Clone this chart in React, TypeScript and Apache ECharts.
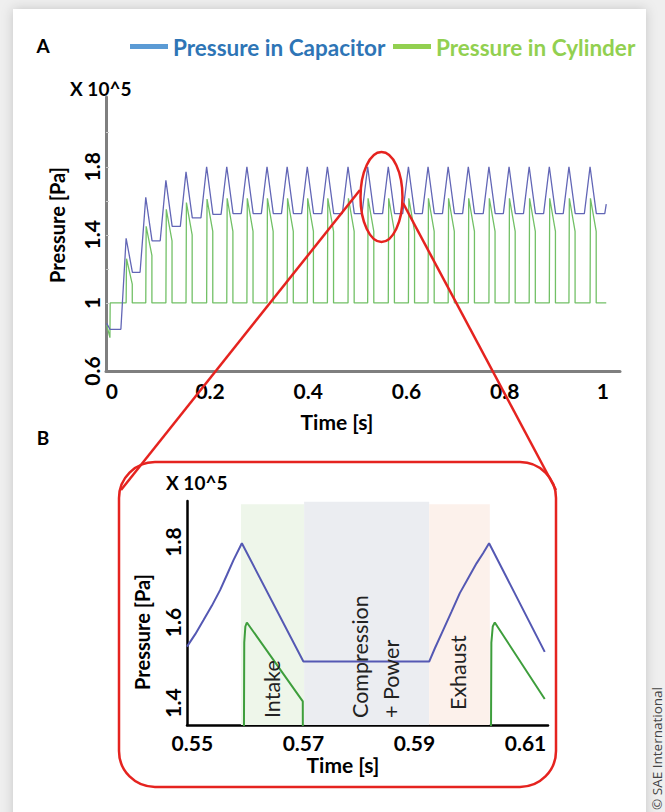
import React, { useEffect, useRef } from "react";
import * as echarts from "echarts";

// ---------- Panel A (full run), time in s, pressure in 10^5 Pa ----------
const cyclePeakTimes = [
  0.029, 0.069, 0.110, 0.151, 0.193, 0.234, 0.275, 0.316, 0.357, 0.398, 0.439, 0.481,
  0.521, 0.563, 0.604, 0.644, 0.685, 0.726, 0.768, 0.809, 0.850, 0.891, 0.931, 0.974,
];
const capacitorPeaks = [
  1.38, 1.62, 1.72, 1.77, 1.80, 1.80, 1.80, 1.80, 1.80, 1.80, 1.80, 1.80,
  1.80, 1.80, 1.80, 1.80, 1.80, 1.80, 1.80, 1.80, 1.80, 1.80, 1.80, 1.80,
];
const capacitorPlateaus = [
  1.18, 1.365, 1.45, 1.50, 1.52, 1.525, 1.525, 1.525, 1.525, 1.525, 1.525, 1.525,
  1.525, 1.525, 1.525, 1.525, 1.525, 1.525, 1.525, 1.525, 1.525, 1.525, 1.525, 1.525,
];
const cylinderPeaks = [
  1.26, 1.45, 1.55, 1.59, 1.61, 1.615, 1.615, 1.615, 1.615, 1.615, 1.615, 1.615,
  1.615, 1.615, 1.615, 1.615, 1.615, 1.615, 1.615, 1.615, 1.615, 1.615, 1.615, 1.615,
];
const cylinderEnds = [
  1.11, 1.28, 1.365, 1.40, 1.42, 1.42, 1.42, 1.42, 1.42, 1.42, 1.42, 1.42,
  1.42, 1.42, 1.42, 1.42, 1.42, 1.42, 1.42, 1.42, 1.42, 1.42, 1.42, 1.42,
];
const capacitorStart = [[-0.0105, 0.88], [-0.004, 0.845], [0.0183, 0.845]];
const capacitorEnd = [[1.004, 1.525], [1.007, 1.58]];
const cylinderStart = [[-0.0105, 0.87], [-0.004, 0.796], [-0.0035, 1.0]];
const cylinderEnd = [[1.007, 1.0]];
const cylinderIdle = 1.0;
const capacitorFallTime = 0.0128;
const capacitorRiseTime = 0.0116;
const cylinderPeakDelay = 0.0008;
const intakeTime = 0.0125;
const topTimeTicks = [0, 0.2, 0.4, 0.6, 0.8, 1];
const topPressureTicks = [0.6, 1, 1.4, 1.8];
const topMinorTicks = [1.0, 1.2, 1.4, 1.6, 1.8, 2.0];

// ---------- Panel B (zoom on one cycle) ----------
const zoomCapTime = [
  0.54904, 0.55053, 0.55202, 0.55353, 0.55502, 0.55622, 0.55741, 0.55892,
  0.57000, 0.59265, 0.59368, 0.59517, 0.59668, 0.59817, 0.59967, 0.60118, 0.60236, 0.60344,
  0.61346,
];
const zoomCapValue = [
  1.540, 1.571, 1.606, 1.642, 1.681, 1.718, 1.755, 1.797,
  1.503, 1.503, 1.536, 1.581, 1.627, 1.673, 1.710, 1.747, 1.772, 1.797,
  1.527,
];
const zoomCylTime = [0.549, 0.55921, 0.55935, 0.55955, 0.55982, 0.56989, 0.56995, 0.60369, 0.60385, 0.60410, 0.60447, 0.61346];
const zoomCylValue = [1.0, 1.0, 1.55, 1.59, 1.60, 1.404, 1.0, 1.0, 1.55, 1.59, 1.60, 1.41];
const phaseNames = ["Intake", "Compression\n+ Power", "Exhaust"];
const phaseStart = [0.55875, 0.57013, 0.59265];
const phaseEnd = [0.57013, 0.59265, 0.60357];
const phaseTop = [1.894, 1.9, 1.894];
const zoomTimeTicks = [0.55, 0.57, 0.59, 0.61];
const zoomPressureTicks = [1.4, 1.6, 1.8];

const FONT = "Lato";

function buildCapacitor(): number[][] {
  const pts: number[][] = capacitorStart.map((p) => [...p]);
  for (let i = 0; i < cyclePeakTimes.length; i++) {
    pts.push([cyclePeakTimes[i], capacitorPeaks[i]]);
    pts.push([cyclePeakTimes[i] + capacitorFallTime, capacitorPlateaus[i]]);
    if (i + 1 < cyclePeakTimes.length) {
      pts.push([cyclePeakTimes[i + 1] - capacitorRiseTime, capacitorPlateaus[i]]);
    }
  }
  capacitorEnd.forEach((p) => pts.push([...p]));
  return pts;
}

function buildCylinder(): number[][] {
  const pts: number[][] = cylinderStart.map((p) => [...p]);
  for (let i = 0; i < cyclePeakTimes.length; i++) {
    pts.push([cyclePeakTimes[i], cylinderIdle]);
    pts.push([cyclePeakTimes[i] + cylinderPeakDelay, cylinderPeaks[i]]);
    pts.push([cyclePeakTimes[i] + intakeTime, cylinderEnds[i]]);
    pts.push([cyclePeakTimes[i] + intakeTime, cylinderIdle]);
  }
  cylinderEnd.forEach((p) => pts.push([...p]));
  return pts;
}

const phaseColors = ["#eef6ea", "#ebedf1", "#fcf1eb"];
const RED = "#e5231f";

export default function App() {
  const ref = useRef<HTMLDivElement>(null);
  useEffect(() => {
    if (!ref.current) return;
    const chart = echarts.init(ref.current, undefined, { renderer: "svg" });
    const tickLabel = { fontFamily: FONT, fontSize: 21, fontWeight: "bold", color: "#000" };
    const txt = (text: string, x: number, y: number, size: number, extra: any = {}, rot = 0) => ({
      type: "text",
      x,
      y,
      rotation: rot,
      z: 20,
      style: {
        text,
        fill: extra.fill || "#000",
        fontFamily: extra.family || FONT,
        fontSize: size,
        fontWeight: extra.weight || "bold",
        align: extra.align || "center",
        verticalAlign: "middle",
        lineHeight: extra.lineHeight,
      },
    });
    const option: any = {
      animation: false,
      backgroundColor: "#efefef",
      grid: [
        { left: 106, top: 97, width: 514, height: 274 },
        { left: 187, top: 501, width: 361, height: 224 },
      ],
      xAxis: [
        {
          gridIndex: 0, type: "value", min: -0.012, max: 1.035,
          axisLine: { onZero: false, lineStyle: { color: "#7f7f7f", width: 3 } },
          axisTick: { show: false }, splitLine: { show: false },
          axisLabel: { ...tickLabel, customValues: topTimeTicks, margin: 9 },
        },
        {
          gridIndex: 1, type: "value", min: 0.54904, max: 0.61405,
          axisLine: { onZero: false, lineStyle: { color: "#000", width: 2.5 } },
          axisTick: { show: false }, splitLine: { show: false },
          axisLabel: { ...tickLabel, customValues: zoomTimeTicks, margin: 7 },
        },
      ],
      yAxis: [
        {
          gridIndex: 0, type: "value", min: 0.6, max: 2.21,
          axisLine: { onZero: false, lineStyle: { color: "#7f7f7f", width: 3 } },
          axisTick: { show: true, inside: true, length: 3, customValues: topMinorTicks, lineStyle: { color: "#c8c8c8" } },
          splitLine: { show: false },
          axisLabel: { ...tickLabel, customValues: topPressureTicks, rotate: 90, margin: 4 },
        },
        {
          gridIndex: 1, type: "value", min: 1.3453, max: 1.9019,
          axisLine: { onZero: false, lineStyle: { color: "#000", width: 2.5 } },
          axisTick: { show: false }, splitLine: { show: false },
          axisLabel: { ...tickLabel, customValues: zoomPressureTicks, rotate: 90, margin: 4 },
        },
      ],
      series: [
        {
          name: "Pressure in Capacitor", type: "line", xAxisIndex: 0, yAxisIndex: 0,
          data: buildCapacitor(), showSymbol: false, symbol: "none",
          lineStyle: { color: "#6266b6", width: 1.3 }, z: 3,
        },
        {
          name: "Pressure in Cylinder", type: "line", xAxisIndex: 0, yAxisIndex: 0,
          data: buildCylinder(), showSymbol: false, symbol: "none",
          lineStyle: { color: "#72c066", width: 1.3 }, z: 2,
        },
        {
          name: "phases", type: "line", xAxisIndex: 1, yAxisIndex: 1, data: [], z: 1,
          markArea: {
            silent: true,
            label: { show: false },
            data: phaseNames.map((n, i) => [
              { name: n, xAxis: phaseStart[i], yAxis: 1.3453, itemStyle: { color: phaseColors[i] } },
              { xAxis: phaseEnd[i], yAxis: phaseTop[i] },
            ]),
          },
        },
        {
          name: "Capacitor (zoom)", type: "line", xAxisIndex: 1, yAxisIndex: 1,
          data: zoomCapTime.map((t, i) => [t, zoomCapValue[i]]), showSymbol: false, symbol: "none",
          lineStyle: { color: "#5458b3", width: 2 }, z: 4,
        },
        {
          name: "Cylinder (zoom)", type: "line", xAxisIndex: 1, yAxisIndex: 1,
          data: zoomCylTime.map((t, i) => [t, zoomCylValue[i]]), showSymbol: false, symbol: "none",
          lineStyle: { color: "#3e9e3c", width: 2 }, z: 4,
        },
      ],
      graphic: [
        {
          type: "rect", z: -5, shape: { x: 13, y: 9, width: 633, height: 830 },
          style: { fill: "#fff", shadowBlur: 12, shadowColor: "rgba(0,0,0,0.18)" },
        },
        txt("A", 43, 45, 19),
        txt("B", 43, 437, 19),
        { type: "rect", z: 20, shape: { x: 130, y: 44, width: 38, height: 5 }, style: { fill: "#5b9bd5" } },
        txt("Pressure in Capacitor", 173, 47, 22.5, { fill: "#2e75b6", align: "left" }),
        { type: "rect", z: 20, shape: { x: 393, y: 44, width: 38, height: 5 }, style: { fill: "#92d050" } },
        txt("Pressure in Cylinder", 436, 47, 22.5, { fill: "#92d050", align: "left" }),
        txt("X 10^5", 70, 88, 19, { align: "left" }),
        txt("Pressure [Pa]", 57, 225, 20, {}, Math.PI / 2),
        txt("Time [s]", 337, 421, 21),
        txt("X 10^5", 166, 482, 19, { align: "left" }),
        txt("Pressure [Pa]", 142, 632, 20, {}, Math.PI / 2),
        txt("Time [s]", 343, 764, 21),
        txt("Intake", 272, 718, 21.5, { weight: "normal", fill: "#222", align: "left" }, Math.PI / 2),
        txt("Compression\n+ Power", 375, 718, 21.5, { weight: "normal", fill: "#222", align: "left", lineHeight: 31 }, Math.PI / 2),
        txt("Exhaust", 458, 710, 21.5, { weight: "normal", fill: "#222", align: "left" }, Math.PI / 2),
        txt("© SAE International", 657, 810, 13.5, { weight: "normal", fill: "#444", align: "left", family: "Open Sans" }, Math.PI / 2),
        {
          type: "ellipse", z: 30, shape: { cx: 381.5, cy: 197, rx: 21, ry: 45 },
          style: { fill: "none", stroke: RED, lineWidth: 2.5 },
        },
        {
          type: "line", z: 30, shape: { x1: 360, y1: 190, x2: 121, y2: 490 },
          style: { stroke: RED, lineWidth: 2.5 },
        },
        {
          type: "line", z: 30, shape: { x1: 403, y1: 203, x2: 556, y2: 490 },
          style: { stroke: RED, lineWidth: 2.5 },
        },
        {
          type: "rect", z: 30, shape: { x: 119, y: 462, width: 437, height: 325, r: 36 },
          style: { fill: "none", stroke: RED, lineWidth: 2.5 },
        },
      ],
    };
    chart.setOption(option);
    return () => chart.dispose();
  }, []);
  return (
    <div
      ref={ref}
      style={{ position: "absolute", left: 0, top: 0, width: 665, height: 812 }}
    />
  );
}
